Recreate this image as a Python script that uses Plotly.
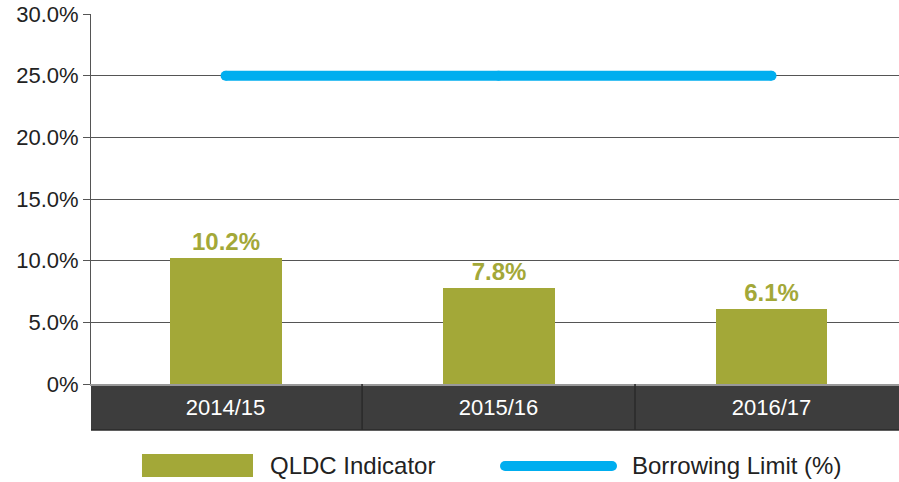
import plotly.graph_objects as go

categories = ["2014/15", "2015/16", "2016/17"]
qldc_indicator = [10.2, 7.8, 6.1]
borrowing_limit = [25.0, 25.0, 25.0]
y_ticks = [0, 5, 10, 15, 20, 25, 30]
y_tick_labels = ["0%", "5.0%", "10.0%", "15.0%", "20.0%", "25.0%", "30.0%"]

OLIVE = "#A3A838"
BLUE = "#00AEEF"
FONT = "Liberation Sans"

fig = go.Figure()
fig.add_trace(go.Bar(
    x=[0, 1, 2], y=qldc_indicator, width=0.41,
    marker=dict(color=OLIVE, line=dict(width=0)),
    text=[f"{v:.1f}%" for v in qldc_indicator], textposition="outside",
    textfont=dict(family=FONT, size=24, color=OLIVE, weight="bold"),
    cliponaxis=False, name="QLDC Indicator", showlegend=False,
))
fig.add_trace(go.Scatter(
    x=[0, 1, 2], y=borrowing_limit, mode="lines+markers",
    line=dict(color=BLUE, width=10),
    marker=dict(color=BLUE, size=10, line=dict(width=0)),
    name="Borrowing Limit (%)", showlegend=False,
))

PW, PH = 808, 370
shapes = []
# dark category band
shapes.append(dict(type="rect", xref="paper", yref="paper", x0=0, x1=1.02, y0=-0.1243, y1=0,
                   fillcolor="#3d3d3d", line=dict(width=0), layer="below"))
shapes.append(dict(type="line", xref="paper", yref="paper", x0=0, x1=1.02, y0=-0.1243, y1=-0.1243,
                   line=dict(color="#2a2a2a", width=1.5)))
for sx in [0.5, 1.5]:
    shapes.append(dict(type="line", xref="x", yref="paper", x0=sx, x1=sx, y0=-0.1243, y1=0,
                       line=dict(color="#2a2a2a", width=1.5)))
# custom legend
shapes.append(dict(type="rect", xref="paper", yref="paper", x0=0.0631, x1=0.2005,
                   y0=-0.2514, y1=-0.189, fillcolor=OLIVE, line=dict(width=0)))
shapes.append(dict(type="line", xref="paper", yref="paper", x0=0.5124, x1=0.6448,
                   y0=-0.2216, y1=-0.2216, line=dict(color=BLUE, width=10)))
for cx in [0.5124, 0.6448]:
    shapes.append(dict(type="circle", xref="paper", yref="paper",
                       x0=cx - 5 / PW, x1=cx + 5 / PW,
                       y0=-0.2216 - 5 / PH, y1=-0.2216 + 5 / PH,
                       fillcolor=BLUE, line=dict(width=0)))

annotations = [
    dict(xref="paper", yref="paper", x=0.219, y=-0.2216, text="QLDC Indicator",
         showarrow=False, xanchor="left", yanchor="middle",
         font=dict(family=FONT, size=24, color="#222222")),
    dict(xref="paper", yref="paper", x=0.667, y=-0.2216, text="Borrowing Limit (%)",
         showarrow=False, xanchor="left", yanchor="middle",
         font=dict(family=FONT, size=24, color="#222222")),
]

fig.update_layout(
    width=899, height=482,
    margin=dict(l=91, r=0, t=14, b=98),
    paper_bgcolor="white", plot_bgcolor="white",
    shapes=shapes, annotations=annotations,
    showlegend=False, bargap=0,
    font=dict(family=FONT),
)
fig.update_xaxes(
    range=[-0.493, 2.467], tickmode="array", tickvals=[0, 1, 2], ticktext=categories,
    ticks="", showgrid=False, zeroline=False,
    showline=True, linecolor="#999999", linewidth=1.5,
    tickfont=dict(family=FONT, size=22, color="white"),
    ticklabelstandoff=3,
)
fig.update_yaxes(
    range=[0, 30], tickmode="array", tickvals=y_ticks, ticktext=y_tick_labels,
    showgrid=True, gridcolor="#555555", gridwidth=1, zeroline=False,
    showline=True, linecolor="#555555", linewidth=1,
    ticks="outside", ticklen=7, tickcolor="#555555",
    tickfont=dict(family=FONT, size=22, color="#222222"),
    ticklabeloverflow="allow",
)

fig.write_html(
    "out.html",
    config={"displayModeBar": False},
    post_script="document.body.style.margin='0';document.body.style.overflow='hidden';",
)
